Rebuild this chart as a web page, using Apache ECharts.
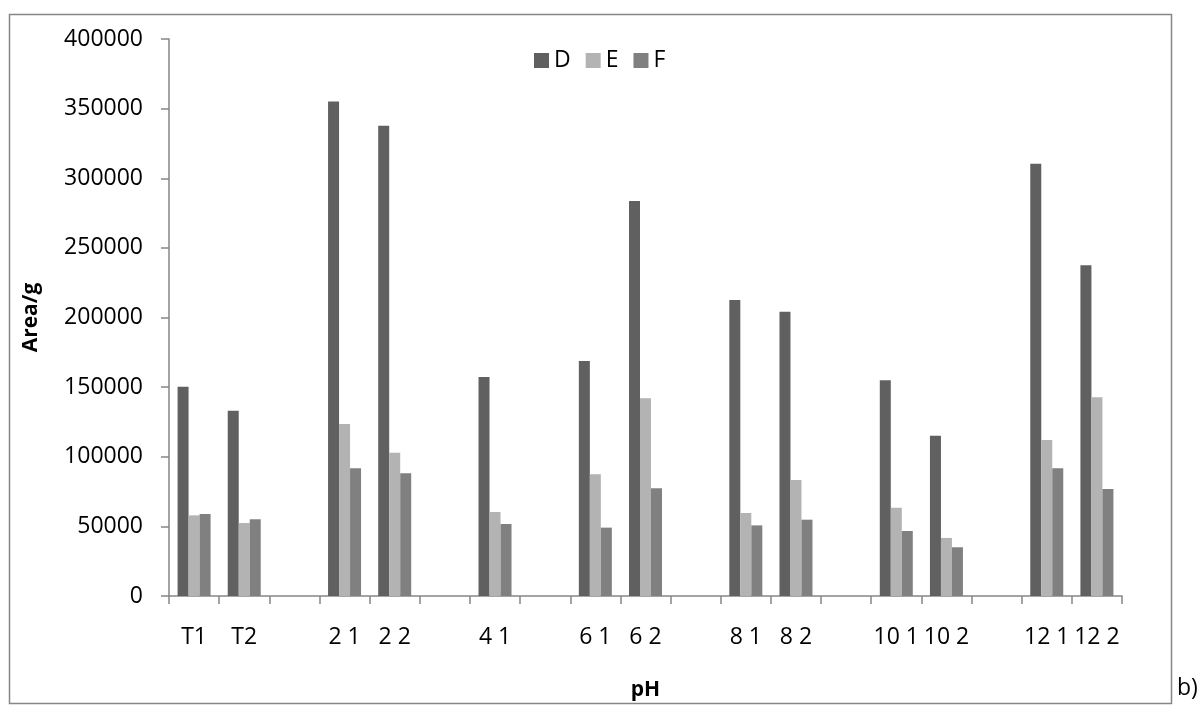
<!DOCTYPE html>
<html>
<head>
<meta charset="utf-8">
<script src="https://cdn.jsdelivr.net/npm/echarts@6/dist/echarts.min.js"></script>
<style>html,body{margin:0;padding:0;background:#fff;}#c{width:1201px;height:708px;}</style>
</head>
<body>
<div id="c"></div>
<script>
const categories = ['T1','T2','','2 1','2 2','','4 1','','6 1','6 2','','8 1','8 2','','10 1','10 2','','12 1','12 2'];
const seriesD = [150300,133100,null,355200,337700,null,157300,null,168800,283700,null,212600,204200,null,154900,115100,null,310500,237500];
const seriesE = [57900,52400,null,123500,102900,null,60300,null,87400,142000,null,59600,83300,null,63400,41700,null,112000,142700];
const seriesF = [58900,55100,null,91700,88100,null,51700,null,49100,77300,null,50700,54800,null,46700,35000,null,91700,76800];
const yTicks = [0,50000,100000,150000,200000,250000,300000,350000,400000];

const chart = echarts.init(document.getElementById('c'), null, {renderer:'canvas'});
const axisGray = '#868686';
const font = 'Open Sans';
function bar(name, data, color){
  return {name, type:'bar', data, barWidth:11, barGap:'0%', itemStyle:{color}};
}
chart.setOption({
  animation:false,
  backgroundColor:'#fff',
  textStyle:{fontFamily:font},
  grid:{left:169, right:79, top:39, bottom:112, containLabel:false, outerBoundsMode:'none'},
  legend:{left:529, top:44, itemWidth:15, itemHeight:15, itemGap:15,
    icon:'path://M0,0H10V10H0Z',
    itemStyle:{borderWidth:0},
    textStyle:{fontFamily:font, fontSize:23, color:'#000'},
    data:['D','E','F']},
  xAxis:{type:'category', data:categories,
    name:'pH', nameLocation:'middle', nameGap:84,
    nameTextStyle:{fontFamily:font, fontSize:21, fontWeight:'bold', color:'#000'},
    axisLine:{lineStyle:{color:axisGray, width:1.5}},
    axisTick:{show:true, length:8, lineStyle:{color:axisGray, width:1.5}},
    axisLabel:{interval:0, margin:30, fontFamily:font, fontSize:23, color:'#000'}},
  yAxis:{type:'value', min:yTicks[0], max:yTicks[yTicks.length-1], interval:50000,
    name:'Area/g', nameLocation:'middle', nameGap:127,
    nameTextStyle:{fontFamily:font, fontSize:21, fontWeight:'bold', color:'#000'},
    axisLine:{show:true, lineStyle:{color:axisGray, width:1.5}},
    axisTick:{show:true, length:8, lineStyle:{color:axisGray, width:1.5}},
    splitLine:{show:false},
    axisLabel:{margin:26, fontFamily:font, fontSize:23, color:'#000', formatter:v=>String(v)}},
  series:[bar('D', seriesD, '#606060'), bar('E', seriesE, '#b3b3b3'), bar('F', seriesF, '#808080')],
  graphic:[
    {type:'rect', shape:{x:9.5, y:14.5, width:1162, height:689}, style:{fill:null, stroke:axisGray, lineWidth:1.5}, silent:true},
    {type:'text', left:1177, top:677, style:{text:'b)', font:'23px "Open Sans"', fill:'#000'}}
  ]
});
</script>
</body>
</html>
